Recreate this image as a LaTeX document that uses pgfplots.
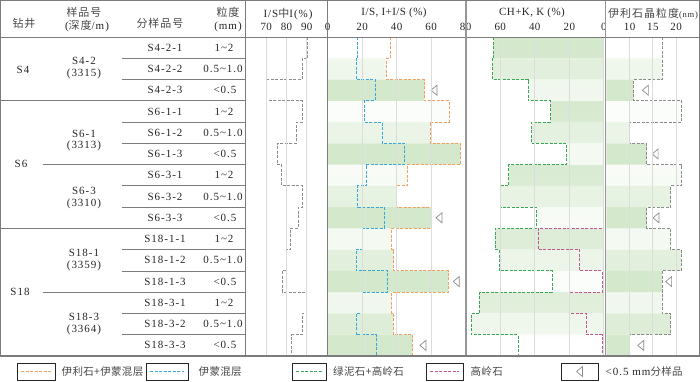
\documentclass[border=0pt]{standalone}
\usepackage{fontspec}
\setmainfont{Liberation Serif}
\newfontfamily\lsp[LetterSpace=9]{Liberation Serif}
\newfontfamily\tsp[LetterSpace=4]{Liberation Serif}
\newfontfamily\cjksp[LetterSpace=9]{Noto Sans CJK SC}
\newfontfamily\cjkn[LetterSpace=3]{Noto Sans CJK SC}
\usepackage{pgfplots}
\pgfplotsset{compat=1.18}

\definecolor{cOr}{HTML}{F2A061}
\definecolor{cBl}{HTML}{38A8DC}
\definecolor{cGn}{HTML}{3AA657}
\definecolor{cPk}{HTML}{C25690}
\definecolor{cGy}{HTML}{8C8C8C}
\definecolor{cFill}{HTML}{D4E8CC}
\definecolor{cLine}{HTML}{7C7C7C}
\definecolor{cGrid}{HTML}{DCDCDC}
\definecolor{cTxt}{HTML}{262626}

\newcommand\zh[1]{{\cjksp\color{cTxt!85!white}#1}}
\newcommand\zhl[1]{{\cjkn\fontsize{10.5}{12}\selectfont\color{cTxt!85!white}#1}}

% open triangle pointing left
\pgfdeclareplotmark{ltri}{%
  \pgfpathmoveto{\pgfqpoint{-0.6\pgfplotmarksize}{0pt}}%
  \pgfpathlineto{\pgfqpoint{0.6\pgfplotmarksize}{\pgfplotmarksize}}%
  \pgfpathlineto{\pgfqpoint{0.6\pgfplotmarksize}{-\pgfplotmarksize}}%
  \pgfpathclose
  \pgfusepathqfillstroke}

\pgfplotsset{
  panel/.style={
    scale only axis, height=319pt, anchor=north west,
    ymin=0, ymax=15, y dir=reverse, ytick=\empty,
    axis x line*=top, axis y line=none, x axis line style={draw=none},
    major tick length=0pt, xtick style={draw=none},
    xmajorgrids, grid style={cGrid, line width=0.9pt},
    axis on top, clip mode=individual,
    tick label style={font=\tsp\fontsize{11}{13}\selectfont, text=cTxt},
    xticklabel style={yshift=3pt},
    /pgf/number format/assume math mode=true,
  },
  stp/.style={const plot mark right, no marks, line width=0.9pt, dash pattern=on 3pt off 1.5pt},
  bar/.style={xbar, bar width=1, bar shift=0pt, draw=none},
  tri/.style={only marks, mark=ltri, mark size=5pt,
    mark options={draw=cGy, fill=white, line width=0.7pt, solid}},
}

\begin{document}
\begin{tikzpicture}[font=\lsp\fontsize{11}{13}\selectfont, text=cTxt]
\useasboundingbox (0pt,0pt) rectangle (700pt,-381pt);

% I/S中I
\begin{axis}[panel, at={(246pt,-37pt)}, width=81pt, xmin=60, xmax=100, xtick={70,80,90}]
\addplot[stp, cGy] coordinates {(90.5,0) (87.7,1) (70.0,2) (87.7,3) (84.8,4) (75.4,5) (77.7,6) (88.0,7)
  (85.9,8) (81.8,9) (79.9,10) (78.0,11) (89.7,12) (87.7,13) (82.6,14) (82.6,15)};
\end{axis}

% I/S, I+I/S
\begin{axis}[panel, at={(327.7pt,-37pt)}, width=138pt, xmin=0, xmax=80, xtick={0,20,40,60,80}]
\addplot[bar, top color=white, bottom color=cFill!35!white] coordinates {(36.1,0.5) (70.3,3.5) (46.0,6.5) (37.1,9.5) (37.1,12.5)};
\addplot[bar, top color=cFill!35!white, bottom color=cFill!80!white] coordinates {(34.2,1.5) (59.3,4.5) (40.0,7.5) (38.0,10.5) (38.0,13.5)};
\addplot[bar, fill=cFill] coordinates {(56.0,2.5) (76.9,5.5) (59.9,8.5) (69.9,11.5) (49.1,14.5)};
\addplot[stp, cOr] coordinates {(36.1,0) (34.2,1) (56.0,2) (70.3,3) (59.3,4) (76.9,5) (46.0,6) (40.0,7)
  (59.9,8) (37.1,9) (38.0,10) (69.9,11) (37.1,12) (38.0,13) (49.1,14) (49.1,15)};
\addplot[stp, cBl] coordinates {(17.4,0) (16.4,1) (27.4,2) (21.2,3) (31.7,4) (44.4,5) (22.6,6) (17.4,7)
  (32.8,8) (20.3,9) (16.4,10) (34.8,11) (20.3,12) (16.4,13) (28.4,14) (28.4,15)};
\addplot[tri] coordinates {(61.6,2.5) (80.8,5.5) (64.5,8.5) (74.5,11.5) (55.2,14.5)};
\end{axis}

% CH+K, K
\begin{axis}[panel, at={(465.7pt,-37pt)}, width=138.1pt, xmin=0, xmax=80, x dir=reverse, xtick={0,20,40,60}]
\addplot[bar, top color=cFill, bottom color=cFill!70!white] coordinates {(64.0,0.5) (31.0,3.5) (55.0,6.5) (63.0,9.5) (71.9,12.5)};
\addplot[bar, top color=cFill!70!white, bottom color=cFill!35!white] coordinates {(64.6,1.5) (41.9,4.5) (59.8,7.5) (60.7,10.5) (76.7,13.5)};
\addplot[bar, top color=cFill!35!white, bottom color=white] coordinates {(43.8,2.5) (21.7,5.5) (39.2,8.5) (30.0,11.5) (49.6,14.5)};
\addplot[stp, cPk] coordinates {(0,0) (0,1) (0,2) (0,3) (0,4) (0,5) (0,6) (0,7)
  (0,8) (38.1,9) (14.2,10) (1.0,11) (20.0,12) (10.2,13) (1.0,14) (1.0,15)};
\addplot[stp, cGn] coordinates {(64.0,0) (64.6,1) (43.8,2) (31.0,3) (41.9,4) (21.7,5) (55.0,6) (59.8,7)
  (39.2,8) (63.0,9) (60.7,10) (30.0,11) (71.9,12) (76.7,13) (49.6,14) (49.6,15)};
\end{axis}

% 伊利石晶粒度
\begin{axis}[panel, at={(606.3pt,-37pt)}, width=93pt, xmin=5, xmax=25, xtick={10,15,20}]
\addplot[bar, top color=white, bottom color=cFill!35!white] coordinates {(17.0,0.5) (21.2,3.5) (21.2,6.5) (18.9,9.5) (17.0,12.5)};
\addplot[bar, top color=cFill!35!white, bottom color=cFill!80!white] coordinates {(17.0,1.5) (9.9,4.5) (18.9,7.5) (21.1,10.5) (18.9,13.5)};
\addplot[bar, fill=cFill] coordinates {(10.9,2.5) (13.7,5.5) (13.7,8.5) (17.0,11.5) (9.9,14.5)};
\addplot[stp, cGy] coordinates {(17.0,0) (17.0,1) (10.9,2) (21.2,3) (9.9,4) (13.7,5) (21.2,6) (18.9,7)
  (13.7,8) (18.9,9) (21.1,10) (17.0,11) (17.0,12) (18.9,13) (9.9,14) (9.9,15)};
\addplot[tri] coordinates {(13.4,2.5) (15.5,5.5) (15.7,8.5) (18.4,11.5) (12.4,14.5)};
\end{axis}

\begin{scope}[x=1pt, y=1pt]
% panel titles
\node at (288,-14) {I/S\zh{中}I(\%)};
\node[font=\tsp\fontsize{11}{13}\selectfont] at (394,-13) {I/S, I+I/S (\%)};
\node[font=\tsp\fontsize{11}{13}\selectfont] at (532,-13) {CH+K, K (\%)};
\node at (653,-14) {\zh{伊利石晶粒度}{\fontsize{8.5}{9}\selectfont(nm)}};

% table header
\node at (24,-23) {\zh{钻井}};
\node at (84,-12.5) {\zh{样品号}};
\node at (87,-26.5) {(\zh{深度}/m)};
\node at (160,-23) {\zh{分样品号}};
\node at (228,-12.5) {\zh{粒度}};
\node at (228,-26.5) {(mm)};

% table body
\foreach \i/\s in {1/S4-2-1,2/S4-2-2,3/S4-2-3,4/S6-1-1,5/S6-1-2,6/S6-1-3,7/S6-3-1,8/S6-3-2,9/S6-3-3,
  10/S18-1-1,11/S18-1-2,12/S18-1-3,13/S18-3-1,14/S18-3-2,15/S18-3-3}
  \node at (165,{-37-(\i-0.5)*21.2667}) {\s};
\foreach \i in {1,4,7,10,13} \node at (224,{-37-(\i-0.5)*21.2667}) {1\textasciitilde 2};
\foreach \i in {2,5,8,11,14} \node at (223,{-37-(\i-0.5)*21.2667}) {0.5\textasciitilde 1.0};
\foreach \i in {3,6,9,12,15} \node at (225,{-37-(\i-0.5)*21.2667}) {<0.5};
\foreach \y/\a/\b in {67.7/S4-2/3315, 140/S6-1/3313, 197.2/S6-3/3310, 259.2/S18-1/3359, 323.5/S18-3/3364}{
  \node at (84,{-\y+6.3}) {\a};
  \node at (84,{-\y-6.3}) {(\b)};
}
\node at (23,-70) {S4};
\node at (21,-164) {S6};
\node at (20,-292) {S18};

% table and panel rules
\begin{scope}[cLine, line width=0.8pt]
  \foreach \k in {1,2,4,5,7,8,10,11,13,14} \draw (122,{-37-\k*21.2667}) -- (245.7,{-37-\k*21.2667});
  \foreach \k in {6,12} \draw (43,{-37-\k*21.2667}) -- (245.7,{-37-\k*21.2667});
  \foreach \k in {3,9} \draw (0,{-37-\k*21.2667}) -- (245.7,{-37-\k*21.2667});
  \draw (0,-37) -- (699.5,-37);
  \draw (245.7,0) -- (245.7,-356);
  \draw (327.5,0) -- (327.5,-356);
  \draw (0.5,-0.5) rectangle (699.5,-356);
\end{scope}
\draw[cLine!80, line width=1.8pt] (465.7,-0.5) -- (465.7,-356);
\draw[cLine!80, line width=1.6pt] (605.5,-0.5) -- (605.5,-356);
\draw[cLine, line width=1.2pt] (0,-356) -- (700,-356);

% legend
\begin{scope}[line width=0.8pt]
  \draw[cTxt] (17,-363) rectangle (55,-380);
  \draw[cOr, line width=1.1pt, dash pattern=on 3pt off 1.5pt] (21,-371.5) -- (51,-371.5);
  \node[anchor=west] at (58,-371.5) {\zhl{伊利石+伊蒙混层}};
  \draw[cTxt] (146,-363) rectangle (188,-380);
  \draw[cBl, line width=1.1pt, dash pattern=on 3pt off 1.5pt] (150,-371.5) -- (184,-371.5);
  \node[anchor=west] at (195,-371.5) {\zhl{伊蒙混层}};
  \draw[cTxt] (292,-363) rectangle (326,-380);
  \draw[cGn, line width=1.1pt, dash pattern=on 3pt off 1.5pt] (296,-371.5) -- (322,-371.5);
  \node[anchor=west] at (329.5,-371.5) {\zhl{绿泥石+高岭石}};
  \draw[cTxt] (426,-363) rectangle (463,-380);
  \draw[cPk, line width=1.1pt, dash pattern=on 3pt off 1.5pt] (430,-371.5) -- (459,-371.5);
  \node[anchor=west] at (467,-371.5) {\zhl{高岭石}};
  \draw[cTxt] (561,-363) rectangle (598,-380);
  \draw[cGy, fill=white, line width=0.7pt] (576.5,-371.5) -- (582.5,-366.5) -- (582.5,-376.5) -- cycle;
  \node[anchor=west] at (602,-371.5) {<0.5 mm\zhl{分样品}};
\end{scope}
\end{scope}
\end{tikzpicture}
\end{document}
